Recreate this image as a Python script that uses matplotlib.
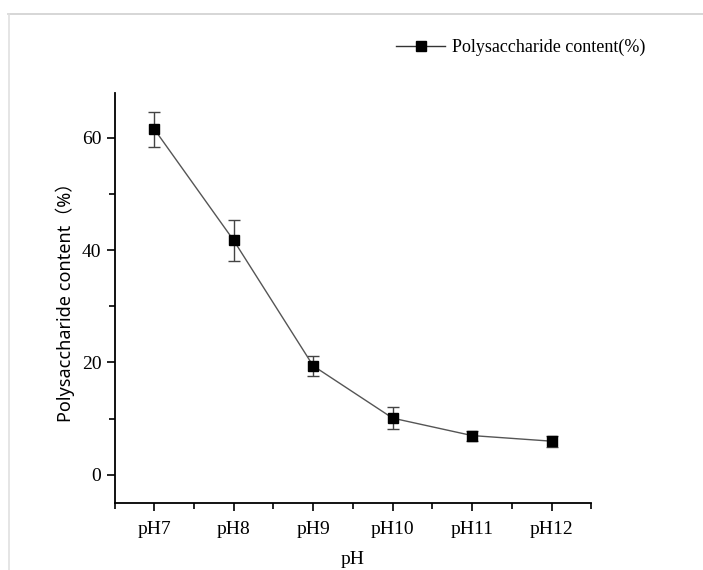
import matplotlib
matplotlib.use('Agg')
import matplotlib.pyplot as plt
from matplotlib.ticker import MultipleLocator
from matplotlib.lines import Line2D

ph_labels = ['pH7', 'pH8', 'pH9', 'pH10', 'pH11', 'pH12']
content = [61.5, 41.7, 19.4, 10.1, 7.0, 6.0]
err = [3.1, 3.6, 1.8, 2.0, 0.9, 1.0]

plt.rcParams['font.family'] = ['Liberation Serif', 'Noto Sans CJK SC']

fig = plt.figure(figsize=(7.03, 5.70), dpi=100)
ax = fig.add_axes([0.163, 0.1175, 0.678, 0.72])

# faint frame of the original screenshot
fig.add_artist(Line2D([0.012, 1.0], [0.975, 0.975], color='#d0d0d0', lw=1.2))
fig.add_artist(Line2D([0.013, 0.013], [0.0, 0.975], color='#e0e0e0', lw=1.2))

x = list(range(len(ph_labels)))
ax.errorbar(x, content, yerr=err, color='#555555', lw=1.0, marker='s', ms=7,
            mfc='black', mec='black', ecolor='#444444', elinewidth=1.0,
            capsize=4, capthick=1.0)

ax.set_xlim(-0.5, 5.5)
ax.set_ylim(-5, 68)
ax.set_xticks(x)
ax.set_xticklabels(ph_labels)
ax.set_xticks([i + 0.5 for i in range(-1, 6)], minor=True)
ax.yaxis.set_major_locator(MultipleLocator(20))
ax.yaxis.set_minor_locator(MultipleLocator(10))

for s in ['top', 'right']:
    ax.spines[s].set_visible(False)
for s in ['left', 'bottom']:
    ax.spines[s].set_linewidth(1.3)
ax.tick_params(which='major', direction='out', length=6, width=1.2, labelsize=14)
ax.tick_params(axis='x', which='major', pad=7)
ax.tick_params(which='minor', direction='out', length=4, width=1.2)

ax.set_xlabel('pH', fontsize=14, labelpad=9)
ax.set_ylabel('Polysaccharide content（%）', fontsize=13, labelpad=5,
              family=['Noto Sans', 'Noto Sans CJK SC'])

handle = Line2D([], [], color='#333333', lw=1.0, marker='s', ms=7,
                mfc='black', mec='black')
ax.legend([handle], ['Polysaccharide content(%)'], loc='upper right',
          bbox_to_anchor=(1.148, 1.17), frameon=False, fontsize=13,
          handlelength=2.7, handletextpad=0.4)

fig.savefig('out.png', dpi=100)
